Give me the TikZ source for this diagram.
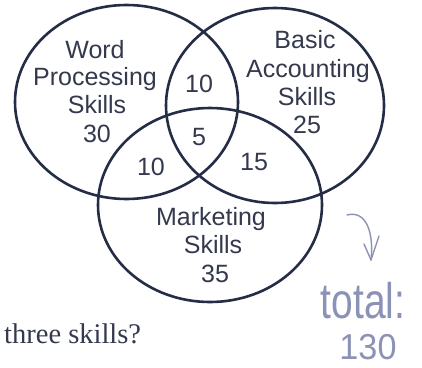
\documentclass[tikz,border=0pt]{standalone}
\usepackage{fontspec}
\setmainfont{Liberation Sans}
\newfontfamily\qserif{Liberation Serif}
\definecolor{ink}{RGB}{36,44,70}
\definecolor{txt}{RGB}{52,57,78}
\definecolor{pencil}{RGB}{140,146,182}
\begin{document}
\begin{tikzpicture}[x=1pt,y=-1pt,
  ring/.style={draw=ink,line width=2.6pt},
  lbl/.style={anchor=base,inner sep=0pt,text=txt,font=\fontsize{25}{28}\selectfont},
  hand/.style={draw=pencil,line width=1.4pt,line cap=round,line join=round},
  handtxt/.style={inner sep=0pt,text=pencil}]
\useasboundingbox (0,0) rectangle (422,367);
\fill[white] (0,0) rectangle (422,367);
% circles
\draw[ring] (126.5,102) ellipse [x radius=111.5, y radius=97];
\draw[ring] (275,105.5) ellipse [x radius=109, y radius=97.5];
\draw[ring] (210,205) ellipse [x radius=112, y radius=97];
% Word processing
\node[lbl] (w1) at (95,58) {Word};
\node[lbl] (w2) at (95,85) {Processing};
\node[lbl] (w3) at (97,113) {Skills};
\node[lbl] (w4) at (97,142) {30};
% Basic accounting
\node[lbl] (b1) at (305,48) {Basic};
\node[lbl] (b2) at (308,77) {Accounting};
\node[lbl] (b3) at (307,105) {Skills};
\node[lbl] (b4) at (307,133) {25};
% Marketing
\node[lbl] (m1) at (211,225) {Marketing};
\node[lbl] (m2) at (213,253) {Skills};
\node[lbl] (m3) at (215,282) {35};
% intersections
\node[lbl] (i1) at (199,92) {10};
\node[lbl] (i2) at (199,145) {5};
\node[lbl] (i3) at (151,175) {10};
\node[lbl] (i4) at (254,170) {15};
% question fragment
\node[anchor=base west,inner sep=0pt,text=txt,font=\qserif\fontsize{28.5}{30}\selectfont] (q) at (4,343) {three skills?};
% handwriting
\coordinate (as) at (347,215);
\coordinate (ae) at (371,260);
\draw[hand] (as) .. controls (366,210) and (374,232) .. (ae);
\draw[hand] (ae) -- ++(-7,-16);
\draw[hand] (ae) -- ++(8,-24);
\node[handtxt,font=\fontsize{50}{50}\selectfont] (tot) at (363,301) {\scalebox{0.78}[1]{total:}};
\node[handtxt,font=\fontsize{36}{36}\selectfont] (num) at (368,347) {\scalebox{0.95}[1]{130}};
\end{tikzpicture}
\end{document}
